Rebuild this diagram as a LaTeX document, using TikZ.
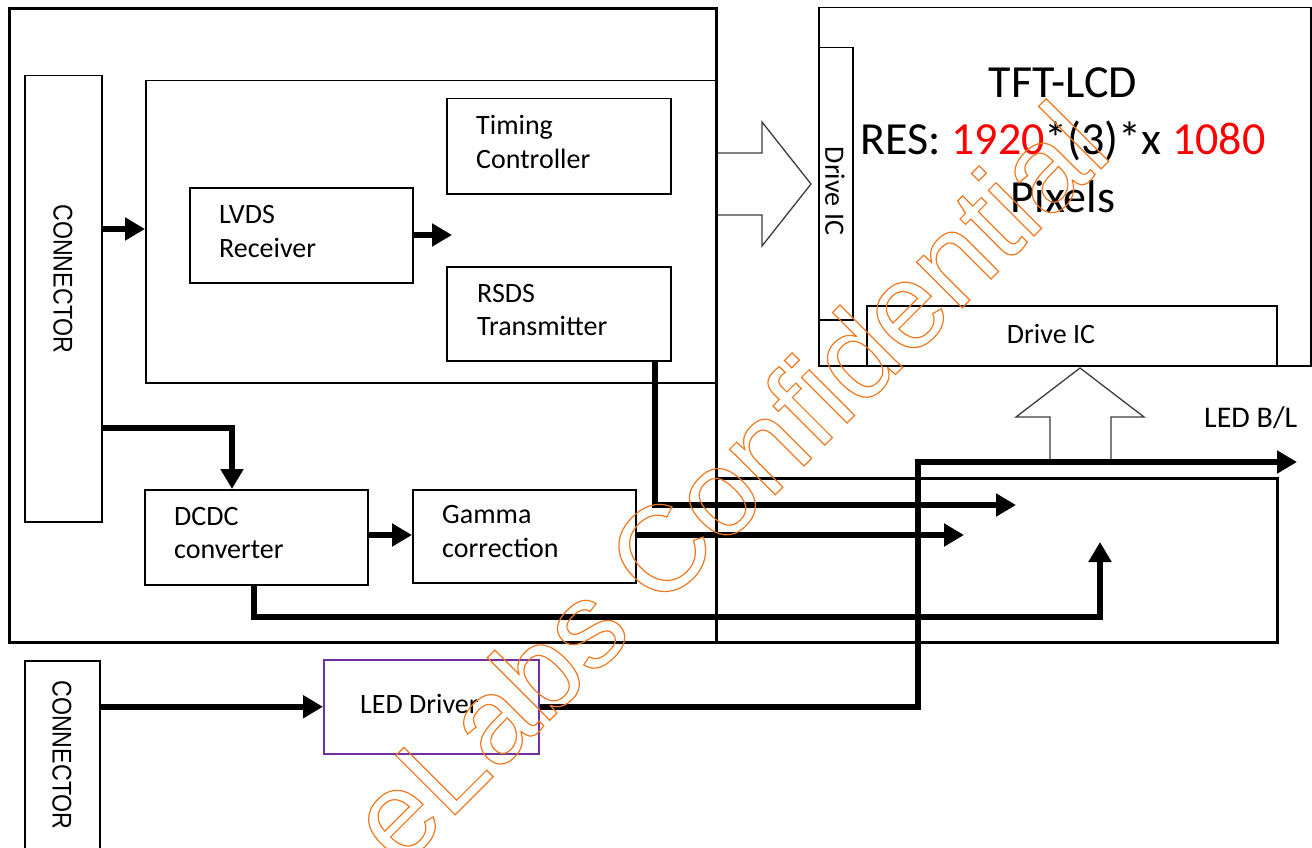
\documentclass[tikz,border=0pt]{standalone}
\usepackage{fontspec}
\setmainfont{Carlito}
\newfontfamily\arialf{Liberation Sans}
\usetikzlibrary{arrows.meta,calc}
\definecolor{redtxt}{RGB}{255,0,0}
\definecolor{ledpurple}{RGB}{112,48,160}
\definecolor{wmorange}{RGB}{240,120,30}
\definecolor{hollowgray}{RGB}{60,60,60}
\begin{document}
\begin{tikzpicture}[x=1pt,y=-1pt,
  blk/.style={draw, line width=1.5pt, inner sep=0pt, rectangle, anchor=north west},
  heavyframe/.style={draw, line width=3pt, inner sep=0pt, rectangle, anchor=north west},
  lbl/.style={inner sep=0pt, font=\fontsize{28}{33}\selectfont, anchor=base west},
  bigtxt/.style={inner sep=0pt, font=\fontsize{46}{57}\selectfont, anchor=base},
  conntxt/.style={inner sep=0pt, rotate=-90, font=\arialf\fontsize{27}{27}\selectfont},
  busarrow/.style={line width=6.5pt, -{Triangle[length=20pt,width=22pt]}},
  hollow/.style={draw=hollowgray, line width=1.3pt, line join=miter},
]
\useasboundingbox (0,0) rectangle (1312,848);
\fill[white] (0,0) rectangle (1312,848);

% ---- boxes ----
\node[heavyframe, minimum width=707pt, minimum height=634pt] (frameL) at (8,7) {};
\node[heavyframe, minimum width=561pt, minimum height=164pt] (blpanel) at (715,477) {};
\node[blk, minimum width=77pt, minimum height=446pt] (conn1) at (24,75) {};
\node[blk, minimum width=570pt, minimum height=302pt] (inner) at (145,80) {};
\node[blk, minimum width=223pt, minimum height=95pt] (lvds) at (189,187) {};
\node[blk, minimum width=224pt, minimum height=95pt] (timing) at (446,98) {};
\node[blk, minimum width=224pt, minimum height=94pt] (rsds) at (446,266) {};
\node[blk, minimum width=223pt, minimum height=95pt] (dcdc) at (144,489) {};
\node[blk, minimum width=223pt, minimum height=93pt] (gamma) at (412,489) {};
\node[blk, minimum width=75pt, minimum height=220pt] (conn2) at (24,660) {};
\node[blk, draw=ledpurple, minimum width=215pt, minimum height=94pt] (led) at (323,659) {};
\node[blk, minimum width=492pt, minimum height=358pt] (tft) at (818,7) {};
\node[blk, minimum width=34pt, minimum height=272pt] (dicL) at (818,47) {};
\node[blk, minimum width=410pt, minimum height=60pt] (dicB) at (866,305) {};

% ---- texts ----
\node[lbl] (t1) at (476,135) {Timing};
\node[lbl] (t2) at (476,168) {Controller};
\node[lbl] (l1) at (219,223) {LVDS};
\node[lbl] (l2) at (219,257) {Receiver};
\node[lbl] (r1) at (477,302) {RSDS};
\node[lbl] (r2) at (477,335) {Transmitter};
\node[lbl] (d1) at (174,525) {DCDC};
\node[lbl] (d2) at (174,558) {converter};
\node[lbl] (g1) at (442,523) {Gamma};
\node[lbl] (g2) at (442,557) {correction};
\node[lbl] (ledt) at (360,713) {LED Driver};
\node[lbl, font=\fontsize{30}{33}\selectfont] (blt) at (1204,427) {LED B/L};
\node[bigtxt] (tft1) at (1063,98) {TFT-LCD};
\node[bigtxt] (tft2) at (1063,155) {RES: {\color{redtxt}1920}*(3)*x {\color{redtxt}1080}};
\node[bigtxt] (tft3) at (1063,212) {Pixels};
\node[lbl, anchor=base] (dicBt) at (1051,343) {Drive IC};
\node[lbl, anchor=center, rotate=-90] (dicLt) at (835,191) {Drive IC};
\node[conntxt] (c1t) at (63,279) {\scalebox{0.86}[1]{CONNECTOR}};
\node[conntxt] (c2t) at (62,755) {\scalebox{0.86}[1]{CONNECTOR}};

% ---- free ends ----
\coordinate (lvdsend) at (452,235);
\coordinate (rsdsend) at (1016,505);
\coordinate (gammaend) at (964,535);
\coordinate (dcdcend) at (1100,542);
\coordinate (blend) at (1297,462);

% ---- heavy connectors ----
\draw[busarrow] (conn1.east |- 0,229) -- (inner.west |- 0,229);
\draw[busarrow] (lvds.east |- lvdsend) -- (lvdsend);
\draw[busarrow] (conn1.east |- 0,428) -| (dcdc.north -| 232,0);
\draw[busarrow] (dcdc.east |- 0,535) -- (gamma.west |- 0,535);
\draw[busarrow] (dcdc.south -| 254,0) |- (1100,617) -- (dcdcend);
\draw[busarrow] (gamma.east |- gammaend) -- (gammaend);
\draw[busarrow] (rsds.south -| 655,0) |- (rsdsend);
\draw[busarrow] (conn2.east |- led.west) -- (led.west);
\draw[busarrow] (led.east) -| (918,462) -- (blend);

% ---- hollow arrows ----
\draw[hollow] (frameL.east |- 0,153) -- (762,153) -- (762,122) -- (811,184) -- (762,246) -- (762,215) -- (frameL.east |- 0,215);
\draw[hollow] (1050,459) -- (1050,417) -- (1016,417) -- (1080,368) -- (1144,417) -- (1111,417) -- (1111,459);

% ---- watermark ----
\node[inner sep=0pt, rotate=45, anchor=base west] (wm) at (400,870)
  {\arialf\fontsize{122}{122}\selectfont\color{wmorange}\special{pdf:literal direct 1 Tr 1.2 w}eLabs Confidential\special{pdf:literal direct 0 Tr}};
\end{tikzpicture}
\end{document}
